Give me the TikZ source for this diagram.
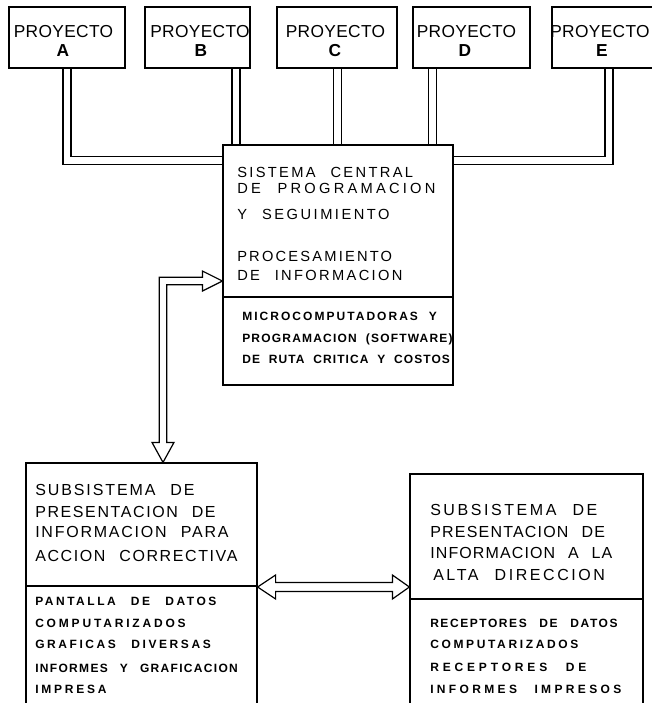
\documentclass[tikz,border=0pt]{standalone}
\usepackage{fontspec}
\setmainfont{Liberation Sans}
\newfontfamily\projfont{Liberation Sans}
\newfontfamily\headfont[WordSpace=2.3]{Liberation Sans}
\newfontfamily\cbfont[WordSpace=2.0]{Liberation Sans}
\newfontfamily\listfont[WordSpace=2.6]{Liberation Sans}
\usetikzlibrary{fit,calc,backgrounds}

\begin{document}
\begin{tikzpicture}[x=0.75pt,y=-0.75pt,
  box/.style={draw, line width=0.9pt, inner sep=0pt, fill=white},
  pipe/.style={draw, line width=0.9pt, double, double distance=5.1pt},
  fat/.style={draw, line width=0.9pt, fill=white, line join=miter},
  divider/.style={draw, line width=0.9pt},
  ptitle/.style={anchor=base, inner sep=0pt, font={\projfont\fontsize{13pt}{15pt}\selectfont\addfontfeature{LetterSpace=2}}},
  pletter/.style={anchor=base, inner sep=0pt, font=\projfont\bfseries\fontsize{13pt}{15pt}\selectfont},
  headtxt/.style={anchor=base west, inner sep=0pt, font={\headfont\fontsize{11pt}{13pt}\selectfont\addfontfeature{LetterSpace=#1}}},
  subhead/.style={anchor=base west, inner sep=0pt, font={\headfont\fontsize{12pt}{14pt}\selectfont\addfontfeature{LetterSpace=#1}}},
  cbtxt/.style={anchor=base west, inner sep=0pt, font={\cbfont\bfseries\fontsize{9pt}{11pt}\selectfont\addfontfeature{LetterSpace=#1}}},
  listtxt/.style={anchor=base west, inner sep=0pt, font={\listfont\bfseries\fontsize{9pt}{11pt}\selectfont\addfontfeature{LetterSpace=#1}}}]
\useasboundingbox (0,0) rectangle (652,703);

% project boxes
\node[box, fit={(9,7) (125,68)}]   (pa) {};
\node[box, fit={(145,7) (250,68)}] (pb) {};
\node[box, fit={(277,7) (397,68)}] (pc) {};
\node[box, fit={(413,7) (530,68)}] (pd) {};
\node[box, fit={(552,7) (672,68)}] (pe) {};

\node[ptitle] (ta) at (63.5,37) {PROYECTO};
\node[ptitle] (tb) at (200,37)  {PROYECTO};
\node[ptitle] (tc) at (335.5,37) {PROYECTO};
\node[ptitle] (td) at (466.5,37) {PROYECTO};
\node[ptitle] (te) at (600,37)  {PROYECTO};
\node[pletter] (la) at (63,56)  {A};
\node[pletter] (lb) at (201,56) {B};
\node[pletter] (lc) at (335,56) {C};
\node[pletter] (ld) at (465,56) {D};
\node[pletter] (le) at (602,56) {E};

% central system
\node[box, fit={(223,145) (453,385)}] (cs) {};
\draw[divider] (cs.west |- 0,297) -- (cs.east |- 0,297);

% presentation subsystems (open at the foot of the sheet)
\node[box, fit={(26,463) (257,720)}]  (sl) {};
\draw[divider] (sl.west |- 0,586) -- (sl.east |- 0,586);
\node[box, fit={(410,474) (643,720)}] (sr) {};
\draw[divider] (sr.west |- 0,599) -- (sr.east |- 0,599);

% double-line feeds from the projects
\begin{scope}[on background layer]
  \draw[pipe] (pa.south -| 67,0)    |- (cs.west |- 0,160.5);
  \draw[pipe] (pb.south -| 236,0)   -- (cs.north -| 236,0);
  \draw[pipe] (pc.south -| 337.5,0) -- (cs.north -| 337.5,0);
  \draw[pipe] (pd.south -| 432.5,0) -- (cs.north -| 432.5,0);
  \draw[pipe] (pe.south -| 609,0)   |- (cs.east |- 0,160.5);
\end{scope}

% hollow arrow: central system <-> corrective action subsystem
\coordinate (t1) at (cs.west |- 0,281);
\coordinate (t2) at (sl.north -| 163,0);
\draw[fat] ($(t1)+(-20,-3.75)$) -- ($(t1)+(-20,-10)$) -- (t1)
  -- ($(t1)+(-20,10)$) -- ($(t1)+(-20,3.75)$)
  -- ($(t2 |- t1)+(3.75,3.75)$) -- ($(t2)+(3.75,-20)$)
  -- ($(t2)+(11,-20)$) -- (t2) -- ($(t2)+(-11,-20)$)
  -- ($(t2)+(-3.75,-20)$) -- ($(t2 |- t1)+(-3.75,-3.75)$) -- cycle;

% hollow arrow between the two subsystems
\coordinate (t3) at (sl.east |- 0,587);
\coordinate (t4) at (sr.west |- 0,587);
\draw[fat] (t3) -- ($(t3)+(18,-12)$) -- ($(t3)+(18,-4.5)$)
  -- ($(t4)+(-17,-4.5)$) -- ($(t4)+(-17,-12)$) -- (t4)
  -- ($(t4)+(-17,12)$) -- ($(t4)+(-17,4.5)$)
  -- ($(t3)+(18,4.5)$) -- ($(t3)+(18,12)$) -- cycle;

% central system texts
\foreach \yy/\ls/\tx [count=\i] in {177/16/SISTEMA CENTRAL, 193/22/DE PROGRAMACION,
    219/17/Y SEGUIMIENTO, 261/15/PROCESAMIENTO, 280/16/DE INFORMACION}
  \node[headtxt=\ls] (ch\i) at (237,\yy) {\tx};
\foreach \yy/\ls/\tx [count=\i] in {320/17/MICROCOMPUTADORAS Y,
    342/10/{PROGRAMACION (SOFTWARE)}, 363/9/DE RUTA CRITICA Y COSTOS}
  \node[cbtxt=\ls] (cl\i) at (242,\yy) {\tx};

% corrective action subsystem texts
\foreach \yy/\ls/\tx [count=\i] in {495/12/SUBSISTEMA DE, 517/10/PRESENTACION DE,
    537/11/INFORMACION PARA, 561/10/ACCION CORRECTIVA}
  \node[subhead=\ls] (lh\i) at (35,\yy) {\tx};
\foreach \yy/\ls/\tx [count=\i] in {605/21/PANTALLA DE DATOS, 627/23.5/COMPUTARIZADOS,
    648/21.5/GRAFICAS DIVERSAS, 672/11/INFORMES Y GRAFICACION, 693/23/IMPRESA}
  \node[listtxt=\ls] (ll\i) at (35,\yy) {\tx};

% top management subsystem texts
\foreach \yy/\ls/\tx [count=\i] in {515/16/SUBSISTEMA DE, 537/7.5/PRESENTACION DE,
    558/7/INFORMACION A LA}
  \node[subhead=\ls] (rh\i) at (430,\yy) {\tx};
\node[subhead=16] (rh4) at (433,580) {ALTA DIRECCION};
\foreach \yy/\ls/\tx [count=\i] in {627/13/RECEPTORES DE DATOS, 648/22/COMPUTARIZADOS,
    671/32/RECEPTORES DE, 693/28/INFORMES IMPRESOS}
  \node[listtxt=\ls] (rl\i) at (430,\yy) {\tx};
\end{tikzpicture}
\end{document}
